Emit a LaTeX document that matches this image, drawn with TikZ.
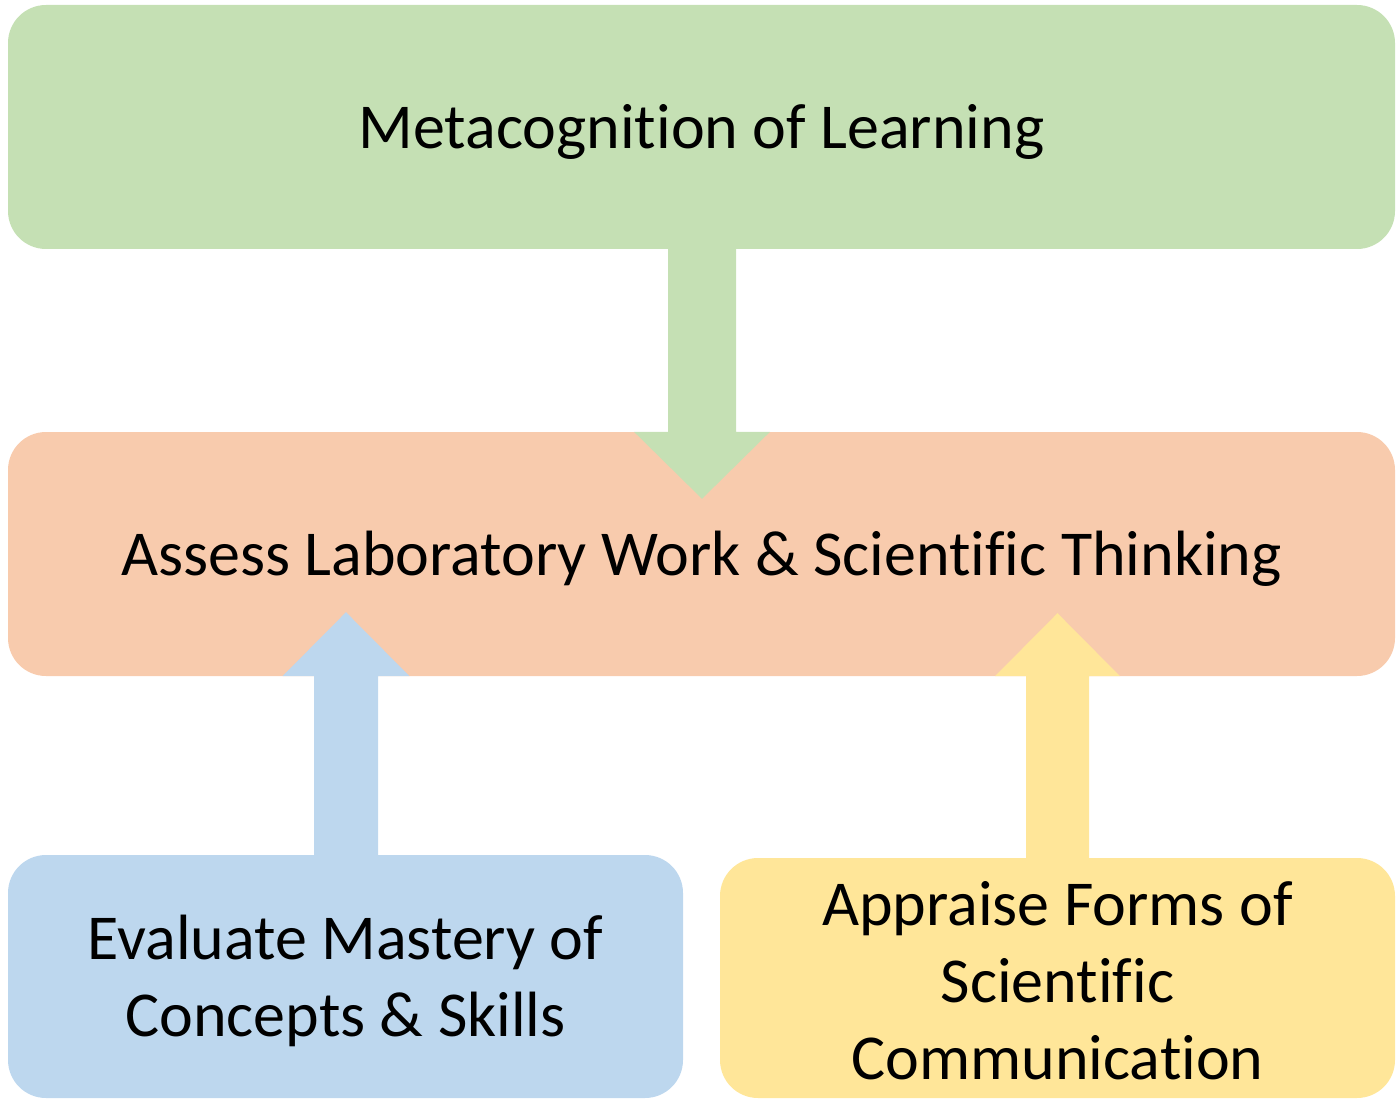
\documentclass[tikz,border=0pt]{standalone}
\usepackage{fontspec}
\setmainfont{Carlito}[Ligatures=NoCommon]
\usetikzlibrary{calc}
\definecolor{gfill}{HTML}{C5E0B4}
\definecolor{ofill}{HTML}{F8CBAD}
\definecolor{bfill}{HTML}{BDD7EE}
\definecolor{yfill}{HTML}{FFE699}
\tikzset{
  box/.style={rounded corners=38pt, inner sep=0pt},
  txt/.style={inner sep=0pt, align=center, font=\fontsize{64}{77}\selectfont, text=black},
}
\begin{document}
\begin{tikzpicture}[x=1pt,y=-1pt]
\useasboundingbox (0,0) rectangle (1397,1099);
\node[box, fill=gfill, minimum width=1387pt, minimum height=244pt] (meta) at (701.5,127) {};
\node[box, fill=ofill, minimum width=1387pt, minimum height=244pt] (assess) at (701.5,554) {};
\node[box, fill=bfill, minimum width=675pt, minimum height=243pt] (eval) at (345.5,976.5) {};
\node[box, fill=yfill, minimum width=675pt, minimum height=240pt] (appr) at (1057.5,978) {};
\node[txt] (metat) at ($(meta.center)+(0,5)$) {Metacognition of Learning};
\node[txt] (assesst) at ($(assess.center)+(0,5)$) {Assess Laboratory Work \& Scientific Thinking};
\node[txt] (evalt) at ($(eval.center)+(0,4)$) {Evaluate Mastery of\\Concepts \& Skills};
\node[txt] (apprt) at ($(appr.center)+(0,3)$) {Appraise Forms of\\Scientific\\Communication};
% green arrow down
\fill[gfill] ($(meta.south)+(0.5-34,0)$) -- ($(assess.north)+(0.5-34,0)$) -- ($(assess.north)+(0.5-68,0)$)
  -- ($(assess.north)+(0.5,67)$) -- ($(assess.north)+(0.5+68,0)$) -- ($(assess.north)+(0.5+34,0)$)
  -- ($(meta.south)+(0.5+34,0)$) -- cycle;
% blue arrow up
\coordinate (bb) at (eval.north -| 346,0);
\coordinate (bt) at (assess.south -| 346,0);
\fill[bfill] ($(bb)+(-32,0)$) -- ($(bt)+(-32,0)$) -- ($(bt)+(-63.5,0)$) -- ($(bt)+(0,-64)$)
  -- ($(bt)+(63.5,0)$) -- ($(bt)+(32,0)$) -- ($(bb)+(32,0)$) -- cycle;
% yellow arrow up
\coordinate (yb) at (appr.north -| 1057.5,0);
\coordinate (yt) at (assess.south -| 1057.5,0);
\fill[yfill] ($(yb)+(-31.5,0)$) -- ($(yt)+(-31.5,0)$) -- ($(yt)+(-62.5,0)$) -- ($(yt)+(0,-63)$)
  -- ($(yt)+(62.5,0)$) -- ($(yt)+(31.5,0)$) -- ($(yb)+(31.5,0)$) -- cycle;
\end{tikzpicture}
\end{document}
